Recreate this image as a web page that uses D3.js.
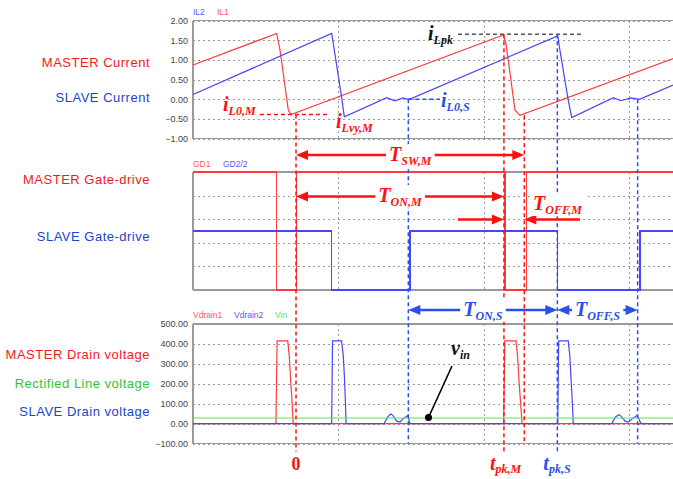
<!DOCTYPE html>
<html>
<head>
<meta charset="utf-8">
<script src="https://cdn.jsdelivr.net/npm/d3@7"></script>
<style>
body { margin: 0; background: #fff; }
svg { display: block; font-family: "Liberation Sans", Arial, sans-serif; }
</style>
</head>
<body>
<div id="chart"></div>
<script>
// time is in grid divisions (one dotted vertical per division)
// inductor currents [t, A]
var il1 = [[0, 0.87], [0.575, 1.67], [0.598, 1.25], [0.655, -0.28], [0.674, -0.39],
    [2.133, 1.63], [2.151, 1.42], [2.213, -0.28], [2.247, -0.41], [3.3, 1.03]];
var il2 = [[0, 0.12], [0.953, 1.67], [0.964, 1.42], [1.021, 0.06], [1.040, -0.45],
    [1.331, 0.04], [1.388, -0.04], [1.443, 0.03], [1.47, 0.0], [1.491, 0.0],
    [2.507, 1.61], [2.518, 1.33], [2.579, -0.03], [2.603, -0.47],
    [2.889, 0.04], [2.94, -0.04], [3.01, 0.03], [3.06, 0.0], [3.072, 0.0], [3.3, 0.36]];

// gate drives [t, level]
var gd1 = [[0, 1], [0.575, 1], [0.575, 0], [0.711, 0], [0.711, 1], [2.144, 1], [2.144, 0],
    [2.293, 0], [2.293, 1], [3.3, 1]];
var gd2 = [[0, 0.5], [0.953, 0.5], [0.953, 0], [1.491, 0], [1.491, 0.5], [2.507, 0.5],
    [2.507, 0], [3.072, 0], [3.072, 0.5], [3.3, 0.5]];

// drain voltages [t, V]
var vdrain1 = [[0, 0], [0.570, 0], [0.578, 415], [0.651, 415], [0.662, 336], [0.671, 220],
    [0.680, 120], [0.689, 0], [2.135, 0], [2.143, 415], [2.220, 415], [2.231, 336],
    [2.240, 220], [2.250, 120], [2.262, 0], [3.3, 0]];
var vdrain2 = [[0, 0], [0.953, 0], [0.959, 415], [1.021, 415], [1.033, 340], [1.041, 230],
    [1.047, 120], [1.052, 0], [1.313, 0], [1.340, 35], [1.359, 48], [1.375, 40], [1.400, 12],
    [1.423, 8], [1.445, 25], [1.473, 40], [1.480, 30], [1.491, 0], [2.507, 0], [2.513, 415],
    [2.579, 415], [2.590, 340], [2.598, 230], [2.606, 120], [2.614, 0], [2.878, 0],
    [2.905, 35], [2.928, 45], [2.945, 35], [2.970, 12], [2.992, 7], [3.020, 25], [3.050, 40],
    [3.060, 30], [3.079, 0], [3.3, 0]];
var vin = [[0, 28], [3.3, 28]];

// axis ticks
var ticksTop = [-1, -0.5, 0, 0.5, 1, 1.5, 2];
var ticksMid = [0, 0.2, 0.4, 0.6, 0.8, 1];
var ticksBot = [-100, 0, 100, 200, 300, 400, 500];
var gridT = [1, 2, 3];

// marked instants and levels
var tZero = 0.708, tPkM = 2.137, tValM = 2.277, tL0S = 1.480, tPkS = 2.504, tL0S2 = 3.056;
var iL0M = -0.39, iLpk = 1.65, iL0S = 0;

var legTop = ["IL2", "IL1"];
var legMid = ["GD1", "GD2/2"];
var legBot = ["Vdrain1", "Vdrain2", "Vin"];
var sideText = ["MASTER Current", "SLAVE Current", "MASTER Gate-drive", "SLAVE Gate-drive",
    "MASTER Drain voltage", "Rectified Line voltage", "SLAVE Drain voltage"];

var W = 673, H = 479;
var RED = "#ff3b3b", BLUE = "#4646ff", GREEN = "#55e855";
var ARED = "#ff1010", ABLUE = "#2a50e8";
var serif = '"Liberation Serif","Times New Roman",serif';

var svg = d3.select("#chart").append("svg")
    .attr("width", W).attr("height", H);

var x = d3.scaleLinear().domain([0, 3.3]).range([193, 673.15]);
var yTop = d3.scaleLinear().domain([-1, 2]).range([138.5, 20.5]);
var yMid = d3.scaleLinear().domain([0, 1]).range([290, 172]);
var yBot = d3.scaleLinear().domain([-100, 500]).range([443.5, 324]);

function panel(y, ticks, labels) {
    var g = svg.append("g");
    var ax = g.append("g")
        .attr("transform", "translate(193,0)")
        .call(d3.axisLeft(y).tickValues(ticks)
            .tickSize(-(W - 193)).tickPadding(5)
            .tickFormat(labels ? d3.format(".2f") : ""));
    ax.select(".domain").remove();
    ax.selectAll("line")
        .attr("stroke", "#9a9a9a")
        .attr("stroke-dasharray", "2,3")
        .attr("shape-rendering", "crispEdges");
    ax.selectAll("text")
        .attr("fill", "#444")
        .style("font-size", "9px")
        .style("font-family", '"Liberation Sans", Arial, sans-serif');

    // vertical grid
    g.selectAll(".vg").data(gridT).enter().append("line")
        .attr("x1", d => x(d)).attr("x2", d => x(d))
        .attr("y1", y.range()[1]).attr("y2", y.range()[0])
        .attr("stroke", "#9a9a9a")
        .attr("stroke-dasharray", "2,3")
        .attr("shape-rendering", "crispEdges");

    // frame
    var y0 = y.range()[0], y1 = y.range()[1];
    [[193, y1, W, y1], [193, y0, W, y0], [193, y1, 193, y0]].forEach(function(s) {
        g.append("line")
            .attr("x1", s[0]).attr("y1", s[1]).attr("x2", s[2]).attr("y2", s[3])
            .attr("stroke", "#9a9a9a").attr("stroke-width", 1.2)
            .attr("shape-rendering", "crispEdges");
    });
    return g;
}

var gTop = panel(yTop, ticksTop, true);
var gMid = panel(yMid, ticksMid, false);
var gBot = panel(yBot, ticksBot, true);

function trace(g, y, data, color, crisp) {
    g.append("path")
        .datum(data)
        .attr("fill", "none")
        .attr("stroke", color)
        .attr("stroke-width", 1.2)
        .attr("shape-rendering", crisp ? "crispEdges" : null)
        .attr("d", d3.line().x(d => x(d[0])).y(d => y(d[1])));
}

trace(gTop, yTop, il1, RED);
trace(gTop, yTop, il2, BLUE);
trace(gMid, yMid, gd1, RED, true);
trace(gMid, yMid, gd2, BLUE, true);
trace(gBot, yBot, vdrain1, RED);
trace(gBot, yBot, vdrain2, BLUE);
trace(gBot, yBot, vin, GREEN);

// legends
function legend(names, colors, xs, yy) {
    names.forEach(function(n, i) {
        svg.append("text").attr("x", xs[i]).attr("y", yy)
            .attr("fill", colors[i]).style("font-size", "8.5px").text(n);
    });
}
legend(legTop, ["#5a5aff", "#ff5a5a"], [193, 217], 15);
legend(legMid, ["#ff5a5a", "#5a5aff"], [193, 223], 167);
legend(legBot, ["#ff5a5a", "#5a5aff", "#5ae85a"], [193, 234, 275], 318);

// side labels
var sideColor = ["#f51a1a", "#1a44d0", "#f51a1a", "#1a44d0", "#f51a1a", "#33c433", "#1a44d0"];
var sideY = [67, 101.5, 184, 241, 359, 387.5, 416];
sideText.forEach(function(s, i) {
    svg.append("text")
        .attr("x", 150).attr("y", sideY[i])
        .attr("text-anchor", "end")
        .attr("fill", sideColor[i])
        .style("font-size", "13px")
        .style("letter-spacing", "0.5px")
        .text(s);
});

// annotation layer
var ann = svg.append("g");

function vdash(t, yFrom, yTo, color) {
    ann.append("line")
        .attr("x1", x(t)).attr("x2", x(t))
        .attr("y1", yFrom).attr("y2", yTo)
        .attr("stroke", color).attr("stroke-width", 1.5)
        .attr("stroke-dasharray", "4,3");
}
function hdash(t1, t2, yy, color) {
    ann.append("line")
        .attr("x1", x(t1)).attr("x2", x(t2))
        .attr("y1", yy).attr("y2", yy)
        .attr("stroke", color).attr("stroke-width", 1.5)
        .attr("stroke-dasharray", "4,3");
}

var yShort = yBot(-100), yLong = yBot(-100) + 8;
vdash(tZero, yTop(iL0M), yLong, ARED);
vdash(tPkM, yTop(iLpk), yLong, ARED);
vdash(tValM, yTop(-0.41), yShort, ARED);
vdash(tL0S, yTop(iL0S), yShort, ABLUE);
vdash(tPkS, yTop(iLpk), yLong, ABLUE);
vdash(tL0S2, yTop(iL0S), yShort, ABLUE);

hdash(0.46, 0.92, yTop(iL0M), ARED);
hdash(1.821, 2.68, yTop(iLpk), "#555");
hdash(tL0S, 1.698, yTop(iL0S), ABLUE);

// arrows
function head(tip, yy, dir, color) {
    var L = 12, w = 5;
    ann.append("path")
        .attr("d", "M" + tip + "," + yy + "L" + (tip - dir * L) + "," + (yy - w) +
            "L" + (tip - dir * L) + "," + (yy + w) + "Z")
        .attr("fill", color);
}
function shaft(xa, xb, yy, color) {
    ann.append("line").attr("x1", xa).attr("x2", xb).attr("y1", yy).attr("y2", yy)
        .attr("stroke", color).attr("stroke-width", 2.6);
}
function both(t1, t2, yy, color) {
    var a = x(t1), b = x(t2);
    shaft(a + 10, b - 10, yy, color);
    head(a, yy, -1, color);
    head(b, yy, 1, color);
}

function label(px, py, main, sub, color, size, subSize, dy, anchor, box) {
    var t = ann.append("text")
        .attr("x", px).attr("y", py)
        .attr("text-anchor", anchor || "start")
        .attr("fill", color)
        .style("font-family", serif)
        .style("font-weight", "bold")
        .style("font-style", "italic");
    t.append("tspan").style("font-size", size + "px").text(main);
    if (sub) t.append("tspan").attr("dy", dy).style("font-size", subSize + "px").text(sub);
    if (box) {
        var b = t.node().getBBox();
        ann.insert("rect", function() { return t.node(); })
            .attr("x", b.x - 3).attr("y", b.y + 1)
            .attr("width", b.width + 6).attr("height", b.height - 2)
            .attr("fill", "#fff");
    }
    return t;
}

both(tZero, tValM, 155, ARED);
label((x(tZero) + x(tValM)) / 2, 161, "T", "SW,M", ARED, 20, 12, 4, "middle", true);

both(tZero, tPkM, 196.5, ARED);
label((x(tZero) + x(tPkM)) / 2, 202, "T", "ON,M", ARED, 20, 12, 4, "middle", true);

shaft(458, x(tPkM) - 10, 219.5, ARED);
head(x(tPkM), 219.5, 1, ARED);
shaft(x(tValM) + 10, 580, 219.5, ARED);
head(x(tValM), 219.5, -1, ARED);
label(533, 210, "T", "OFF,M", ARED, 20, 12, 4, "start", true);

both(tL0S, tPkS, 310, ABLUE);
label((x(tL0S) + x(tPkS)) / 2, 316, "T", "ON,S", ABLUE, 20, 12, 4, "middle", true);
both(tPkS, tL0S2, 310, ABLUE);
label((x(tPkS) + x(tL0S2)) / 2, 316, "T", "OFF,S", ABLUE, 20, 12, 4, "middle", true);

// current labels
label(223, 111, "i", "L0,M", ARED, 20, 12, 4);
label(336, 128, "i", "Lvy,M", ARED, 20, 12, 4);
label(441, 107, "i", "L0,S", ABLUE, 20, 12, 4);
label(428, 40, "i", "Lpk", "#111", 20, 12, 4);

// v_in pointer
ann.append("line").attr("x1", 452).attr("y1", 366).attr("x2", 428.5).attr("y2", 417.5)
    .attr("stroke", "#000").attr("stroke-width", 1.6);
ann.append("circle").attr("cx", 428.5).attr("cy", 417.5).attr("r", 3.5).attr("fill", "#000");
label(451, 355, "v", "in", "#111", 20, 12, 4);

// time markers
ann.append("text").attr("x", x(tZero)).attr("y", 470)
    .attr("text-anchor", "middle").attr("fill", ARED)
    .style("font-family", serif).style("font-weight", "bold").style("font-size", "18px")
    .text("0");
label(x(tPkM) - 14, 470, "t", "pk,M", ARED, 20, 12, 3);
label(x(tPkS) - 14, 470, "t", "pk,S", ABLUE, 20, 12, 3);
</script>
</body>
</html>
